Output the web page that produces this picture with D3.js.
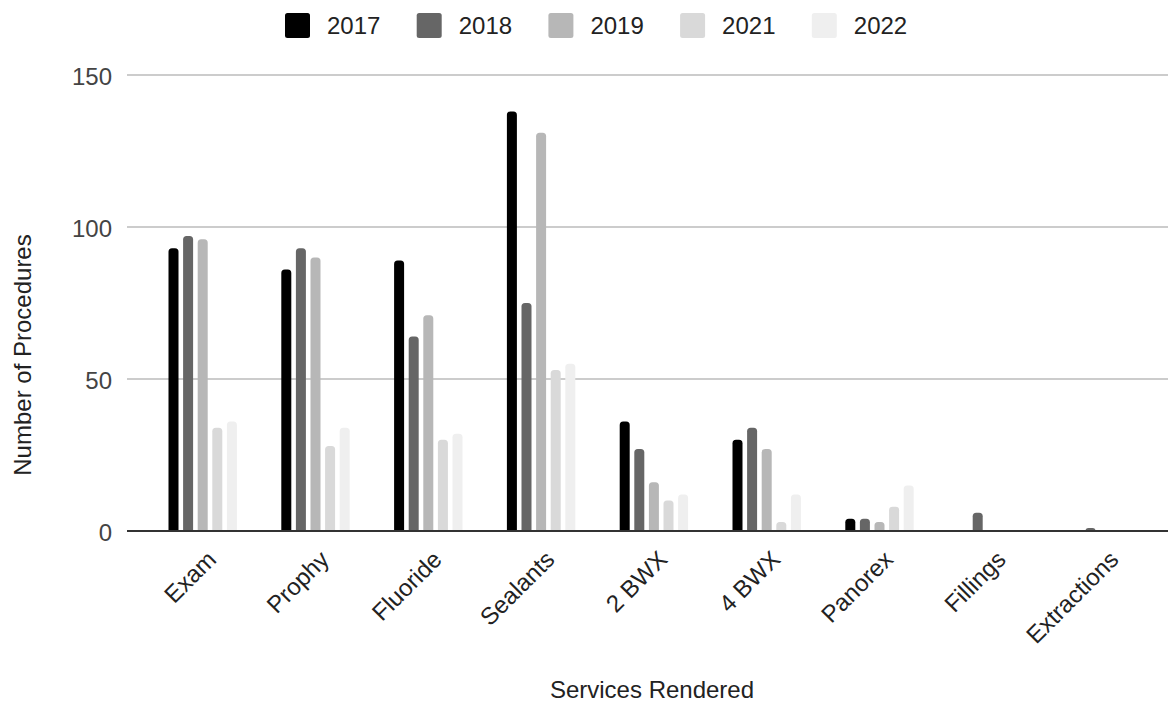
<!DOCTYPE html>
<html>
<head>
<meta charset="utf-8">
<script src="https://cdn.jsdelivr.net/npm/d3@7"></script>
<style>
  html, body { margin: 0; padding: 0; background: #ffffff; }
  svg { display: block; font-family: "Liberation Sans", Arial, sans-serif; }
</style>
</head>
<body>
<svg id="chart" width="1169" height="704"></svg>
<script>
// Procedures per service, by year
const categories = ["Exam", "Prophy", "Fluoride", "Sealants", "2 BWX", "4 BWX", "Panorex", "Fillings", "Extractions"];
const years = ["2017", "2018", "2019", "2021", "2022"];
const v2017 = [93, 86, 89, 138, 36, 30, 4, 0, 0];
const v2018 = [97, 93, 64, 75, 27, 34, 4, 6, 1];
const v2019 = [96, 90, 71, 131, 16, 27, 3, 0, 0];
const v2021 = [34, 28, 30, 53, 10, 3, 8, 0, 0];
const v2022 = [36, 34, 32, 55, 12, 12, 15, 0, 0];
const yTicks = [0, 50, 100, 150];
const colors = ["#000000", "#666666", "#b7b7b7", "#d9d9d9", "#efefef"];

const seriesValues = [v2017, v2018, v2019, v2021, v2022];
const rows = categories.map((c, i) => ({
  category: c,
  values: years.map((y, k) => ({ year: y, value: seriesValues[k][i] }))
}));

const svg = d3.select("#chart");
const plotLeft = 127, plotRight = 1168;

const x0 = d3.scaleBand().domain(categories).range([146.3, 1161.5]).padding(0);
const groupW = 68.4;
const x1 = d3.scaleBand().domain(years)
  .range([(x0.bandwidth() - groupW) / 2, (x0.bandwidth() + groupW) / 2])
  .paddingInner(0.315).paddingOuter(0);
const y = d3.scaleLinear().domain([0, 150]).range([531, 75]);
const color = d3.scaleOrdinal().domain(years).range(colors);

// horizontal gridlines
svg.append("g").selectAll("line").data(yTicks.filter(t => t !== 0)).join("line")
  .attr("x1", plotLeft).attr("x2", plotRight)
  .attr("y1", d => y(d)).attr("y2", d => y(d))
  .attr("stroke", "#cccccc").attr("stroke-width", 2);

// y tick labels
const yAxis = d3.axisLeft(y).tickValues(yTicks).tickSize(0).tickPadding(0);
const gy = svg.append("g").attr("transform", `translate(112,0)`).call(yAxis);
gy.select(".domain").remove();
gy.selectAll("text")
  .attr("font-size", 24).attr("fill", "#444444")
  .attr("font-family", "'Liberation Sans', Arial, sans-serif")
  .attr("dy", "0.4em");

// bars with rounded tops
function barPath(x, yTop, w, yBase, r) {
  const h = yBase - yTop;
  if (h <= 0) return "";
  const rr = Math.min(r, w / 2, h);
  return `M${x},${yBase}V${yTop + rr}Q${x},${yTop} ${x + rr},${yTop}H${x + w - rr}Q${x + w},${yTop} ${x + w},${yTop + rr}V${yBase}Z`;
}

const groups = svg.append("g").selectAll("g").data(rows).join("g")
  .attr("transform", d => `translate(${x0(d.category)},0)`);
groups.selectAll("path").data(d => d.values.filter(v => v.value > 0)).join("path")
  .attr("d", d => barPath(x1(d.year), y(d.value), x1.bandwidth(), y(0), 3.5))
  .attr("fill", d => color(d.year));

// baseline
svg.append("line")
  .attr("x1", plotLeft).attr("x2", plotRight)
  .attr("y1", y(0)).attr("y2", y(0))
  .attr("stroke", "#333333").attr("stroke-width", 2);

// category labels, rotated
const xAxis = d3.axisBottom(x0).tickSize(0).tickPadding(0);
const gx = svg.append("g").attr("transform", `translate(0,${y(0)})`).call(xAxis);
gx.select(".domain").remove();
gx.selectAll("text")
  .attr("font-size", 24).attr("fill", "#222222")
  .attr("font-family", "'Liberation Sans', Arial, sans-serif")
  .attr("text-anchor", "end")
  .attr("dy", null)
  .attr("y", null)
  .attr("transform", "translate(15,30) rotate(-45)");

// axis titles
svg.append("text")
  .attr("x", 652).attr("y", 698)
  .attr("text-anchor", "middle")
  .attr("font-size", 24).attr("fill", "#222222")
  .text("Services Rendered");

svg.append("text")
  .attr("transform", "translate(31,355) rotate(-90)")
  .attr("text-anchor", "middle")
  .attr("font-size", 24).attr("fill", "#222222")
  .text("Number of Procedures");

// legend
const legend = svg.append("g").selectAll("g").data(years).join("g")
  .attr("transform", (d, i) => `translate(${285 + i * 131.7},13)`);
legend.append("rect")
  .attr("width", 25).attr("height", 25).attr("rx", 2.5)
  .attr("fill", d => color(d));
legend.append("text")
  .attr("x", 42).attr("y", 12.5).attr("dy", "0.36em")
  .attr("font-size", 24).attr("fill", "#222222")
  .text(d => d);
</script>
</body>
</html>
